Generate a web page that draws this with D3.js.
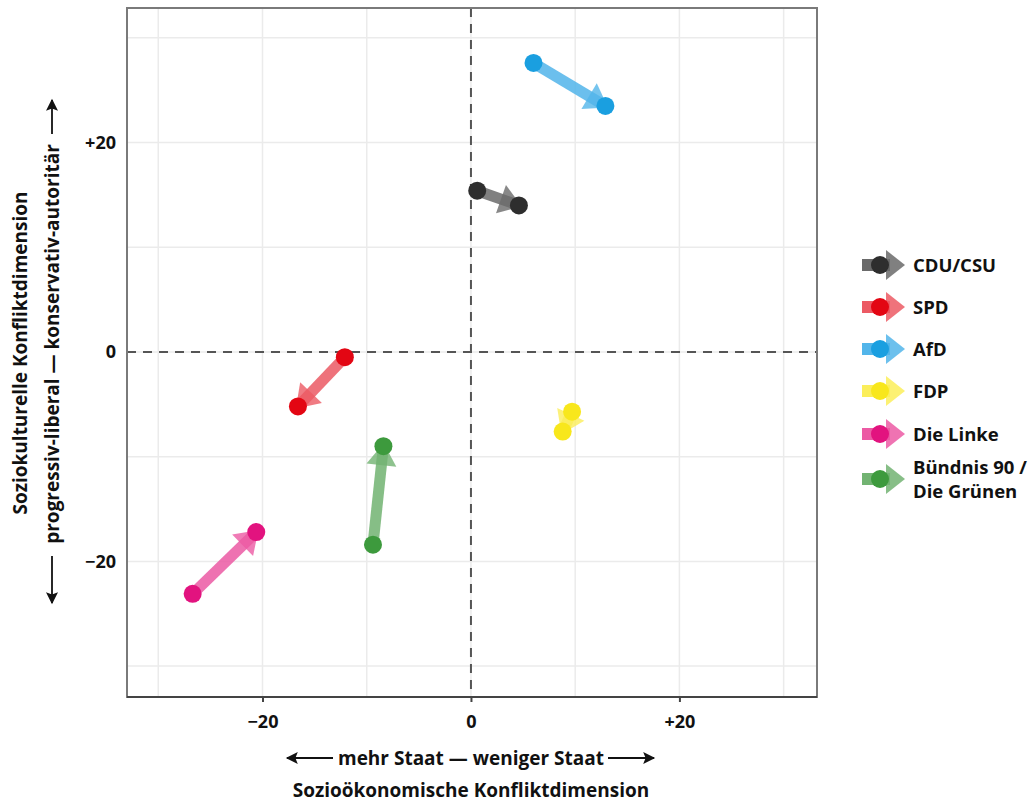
<!DOCTYPE html>
<html>
<head>
<meta charset="utf-8">
<script src="https://cdn.jsdelivr.net/npm/d3@7"></script>
<style>
  body { margin: 0; background: #fff; }
  text { font-family: "Open Sans", "Noto Sans", sans-serif; font-weight: 700; fill: #111; }
</style>
</head>
<body>
<div id="chart"></div>
<script>
// data
var parties = ["CDU/CSU", "SPD", "AfD", "FDP", "Die Linke", "Bündnis 90/Die Grünen"];
var colors = ["#2e2e2e", "#e30613", "#1a9fe0", "#f8e71c", "#e2137f", "#3d9a3d"];
var arrowColors = ["#6a6a6a", "#ec5a64", "#52b5ea", "#fbee5a", "#ec5aa4", "#72b372"];
var startX = [0.6, -12.1, 6.0, 9.7, -26.7, -9.4];
var startY = [15.4, -0.5, 27.6, -5.7, -23.1, -18.4];
var endX = [4.6, -16.6, 12.9, 8.8, -20.6, -8.4];
var endY = [14.0, -5.2, 23.5, -7.6, -17.2, -9.0];
var ticks = [-20, 0, 20];
var minorTicks = [-30, -10, 10, 30];
var tickText = ["\u221220", "0", "+20"];

var svgWidth = 1033;
var svgHeight = 803;
var margin = { top: 8, left: 127, right: 216, bottom: 106 };
var width = svgWidth - margin.left - margin.right;
var height = svgHeight - margin.top - margin.bottom;

var svg = d3.select("#chart").append("svg")
  .attr("width", svgWidth)
  .attr("height", svgHeight);

var chartGroup = svg.append("g")
  .attr("transform", `translate(${margin.left}, ${margin.top})`);

var x = d3.scaleLinear().domain([-33, 33.2]).range([0, width]);
var y = d3.scaleLinear().domain([-32.95, 32.85]).range([height, 0]);

// grid
chartGroup.selectAll(".vgrid").data(ticks.concat(minorTicks)).enter()
  .append("line")
  .attr("x1", d => x(d)).attr("x2", d => x(d))
  .attr("y1", 0).attr("y2", height)
  .attr("stroke", "#ebebeb").attr("stroke-width", 1.5);
chartGroup.selectAll(".hgrid").data(ticks.concat(minorTicks)).enter()
  .append("line")
  .attr("y1", d => y(d)).attr("y2", d => y(d))
  .attr("x1", 0).attr("x2", width)
  .attr("stroke", "#ebebeb").attr("stroke-width", 1.5);

// zero lines
chartGroup.append("line")
  .attr("x1", x(0)).attr("x2", x(0)).attr("y1", 0).attr("y2", height)
  .attr("stroke", "#555").attr("stroke-width", 2).attr("stroke-dasharray", "9,7");
chartGroup.append("line")
  .attr("y1", y(0)).attr("y2", y(0)).attr("x1", 0).attr("x2", width)
  .attr("stroke", "#555").attr("stroke-width", 2).attr("stroke-dasharray", "9,7");

// frame
chartGroup.append("rect")
  .attr("width", width).attr("height", height)
  .attr("fill", "none").attr("stroke", "#7a7a7a").attr("stroke-width", 2);
chartGroup.append("line")
  .attr("x1", 0).attr("x2", width).attr("y1", height).attr("y2", height)
  .attr("stroke", "#444").attr("stroke-width", 2);

// axes
var bottomAxis = d3.axisBottom(x).tickValues(ticks).tickSize(5).tickFormat((d, i) => tickText[i]);
var leftAxis = d3.axisLeft(y).tickValues(ticks).tickSize(0).tickFormat((d, i) => tickText[i]);

var xg = chartGroup.append("g").attr("transform", `translate(0, ${height})`).call(bottomAxis);
xg.select(".domain").remove();
xg.selectAll(".tick line").attr("stroke", "#444").attr("stroke-width", 2);
xg.selectAll(".tick text").attr("dy", "1.3em").style("font-size", "18px").attr("fill", "#111");

var yg = chartGroup.append("g").call(leftAxis);
yg.select(".domain").remove();
yg.selectAll(".tick text").attr("x", -11).style("font-size", "18px").attr("fill", "#111");

// arrows
function arrowPath(x1, y1, x2, y2, headLen, headW) {
  var dx = x2 - x1, dy = y2 - y1;
  var len = Math.sqrt(dx * dx + dy * dy);
  var ux = dx / len, uy = dy / len;
  var px = -uy, py = ux;
  var tipX = x2 + ux * 3, tipY = y2 + uy * 3;
  var bx = tipX - ux * headLen, by = tipY - uy * headLen;
  return `M${tipX},${tipY}L${bx + px * headW / 2},${by + py * headW / 2}L${bx - px * headW / 2},${by - py * headW / 2}Z`;
}

var marks = chartGroup.selectAll(".party").data(parties).enter().append("g");

marks.append("line")
  .attr("x1", (d, i) => x(startX[i])).attr("y1", (d, i) => y(startY[i]))
  .attr("x2", (d, i) => x(endX[i])).attr("y2", (d, i) => y(endY[i]))
  .attr("stroke", (d, i) => arrowColors[i]).attr("stroke-width", 11)
  .attr("opacity", 0.85);

marks.append("path")
  .attr("d", (d, i) => arrowPath(x(startX[i]), y(startY[i]), x(endX[i]), y(endY[i]), 22, 30))
  .attr("fill", (d, i) => arrowColors[i]).attr("opacity", 0.8);

marks.append("circle")
  .attr("cx", (d, i) => x(startX[i])).attr("cy", (d, i) => y(startY[i]))
  .attr("r", 9).attr("fill", (d, i) => colors[i]);
marks.append("circle")
  .attr("cx", (d, i) => x(endX[i])).attr("cy", (d, i) => y(endY[i]))
  .attr("r", 9).attr("fill", (d, i) => colors[i]);

// legend
var legendY = [265, 307, 349, 391, 434, 479];
var legend = svg.selectAll(".legend").data(parties).enter().append("g")
  .attr("transform", (d, i) => `translate(860, ${legendY[i]})`);

legend.append("line")
  .attr("x1", 2).attr("x2", 30).attr("y1", 0).attr("y2", 0)
  .attr("stroke", (d, i) => arrowColors[i]).attr("stroke-width", 12);
legend.append("path")
  .attr("d", "M45,0L26,-15L26,15Z")
  .attr("fill", (d, i) => arrowColors[i]).attr("opacity", 0.85);
legend.append("circle")
  .attr("cx", 20).attr("cy", 0).attr("r", 9)
  .attr("fill", (d, i) => colors[i]);

legend.each(function(d, i) {
  var t = d3.select(this).append("text")
    .attr("x", 53).style("font-size", "18.5px");
  var lines = d.indexOf("/Die") > 0 ? ["Bündnis 90 /", "Die Grünen"] : [d];
  lines.forEach(function(l, j) {
    t.append("tspan").attr("x", 53)
      .attr("y", lines.length > 1 ? (j === 0 ? -5 : 19) : 7)
      .text(l);
  });
});

// axis titles
var defs = svg.append("defs");
defs.append("marker")
  .attr("id", "head").attr("viewBox", "0 0 10 10")
  .attr("refX", 9).attr("refY", 5)
  .attr("markerWidth", 14).attr("markerHeight", 12)
  .attr("markerUnits", "userSpaceOnUse")
  .attr("orient", "auto")
  .append("path").attr("d", "M0,0L10,5L0,10L2,5Z").attr("fill", "#111");

var cx = margin.left + x(0);
svg.append("text")
  .attr("x", cx).attr("y", 765).attr("text-anchor", "middle")
  .style("font-size", "19px")
  .text("mehr Staat \u2014 weniger Staat");
svg.append("text")
  .attr("x", cx).attr("y", 797).attr("text-anchor", "middle")
  .style("font-size", "19px")
  .text("Sozioökonomische Konfliktdimension");
svg.append("line")
  .attr("x1", 333).attr("y1", 758).attr("x2", 287).attr("y2", 758)
  .attr("stroke", "#111").attr("stroke-width", 1.8).attr("marker-end", "url(#head)");
svg.append("line")
  .attr("x1", 608).attr("y1", 758).attr("x2", 654).attr("y2", 758)
  .attr("stroke", "#111").attr("stroke-width", 1.8).attr("marker-end", "url(#head)");

svg.append("text")
  .attr("transform", "translate(27, 353) rotate(-90)")
  .attr("text-anchor", "middle")
  .style("font-size", "19px")
  .text("Soziokulturelle Konfliktdimension");
svg.append("text")
  .attr("transform", "translate(59, 344) rotate(-90)")
  .attr("text-anchor", "middle")
  .style("font-size", "19px")
  .text("progressiv-liberal \u2014 konservativ-autoritär");
svg.append("line")
  .attr("x1", 52).attr("y1", 134).attr("x2", 52).attr("y2", 100)
  .attr("stroke", "#111").attr("stroke-width", 1.8).attr("marker-end", "url(#head)");
svg.append("line")
  .attr("x1", 52).attr("y1", 556).attr("x2", 52).attr("y2", 603)
  .attr("stroke", "#111").attr("stroke-width", 1.8).attr("marker-end", "url(#head)");
</script>
</body>
</html>
